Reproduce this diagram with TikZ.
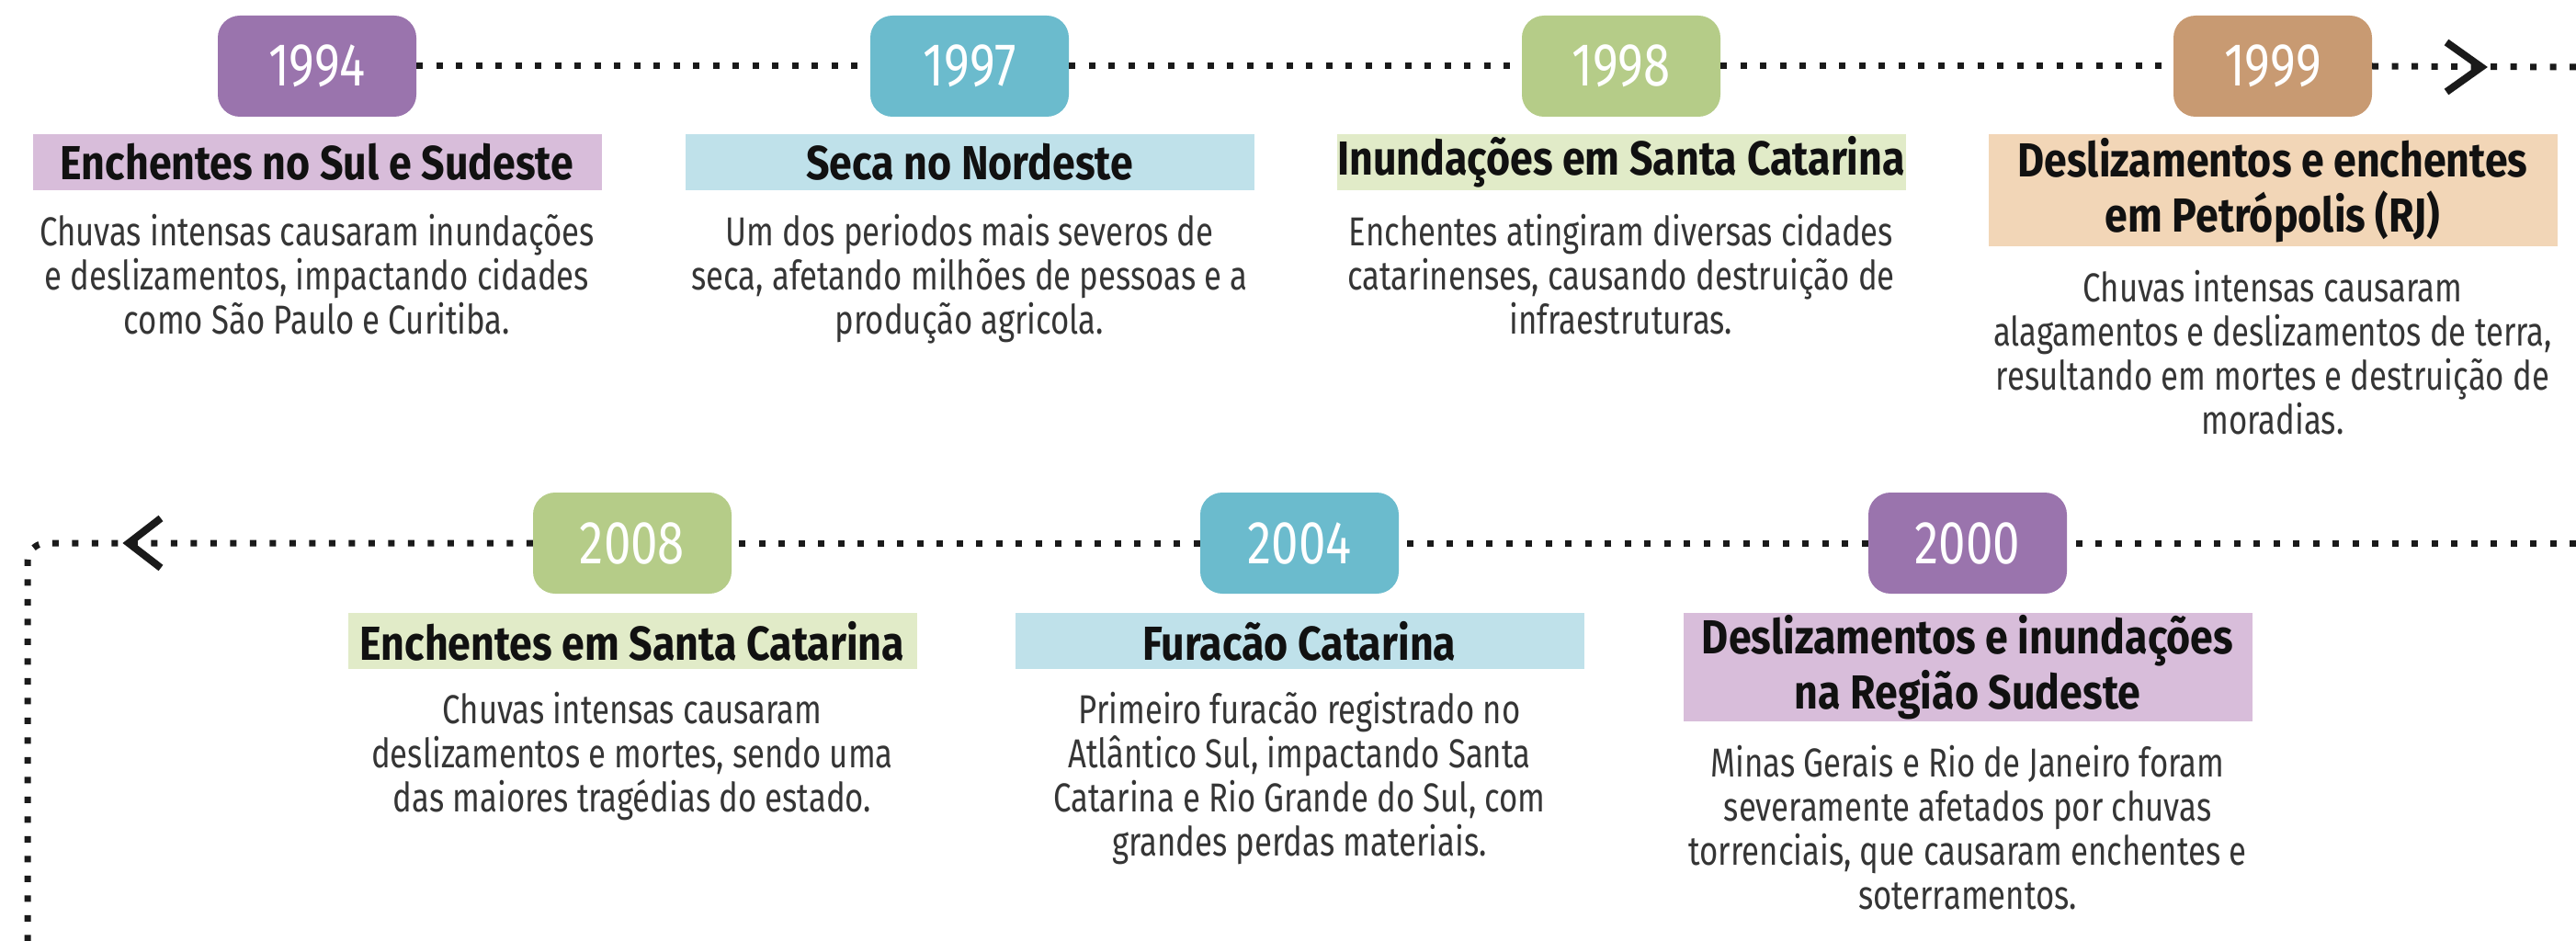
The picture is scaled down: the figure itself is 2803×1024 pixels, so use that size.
\documentclass[tikz,border=0pt]{standalone}
\usepackage{fontspec}
\setmainfont{Fira Sans}[FakeStretch=0.79]
\newfontfamily\titlefam{Fira Sans}[FakeStretch=0.86]
\newfontfamily\yearfam{Fira Sans}[FakeStretch=0.8]
\usetikzlibrary{calc}
\definecolor{purpleD}{HTML}{9A74AD}
\definecolor{purpleL}{HTML}{D8BDDA}
\definecolor{tealD}{HTML}{6BBBCD}
\definecolor{tealL}{HTML}{BFE1EA}
\definecolor{greenD}{HTML}{B5CC88}
\definecolor{greenL}{HTML}{E1EBC8}
\definecolor{tanD}{HTML}{C89A72}
\definecolor{tanL}{HTML}{F2D6B7}
\definecolor{titlecol}{HTML}{111111}
\definecolor{desccol}{HTML}{353535}
\definecolor{dotcol}{HTML}{1A1A1A}
\tikzset{
  yearbox/.style={rounded corners=24pt, minimum width=216pt, minimum height=110pt,
    inner sep=0pt, text=white, font=\yearfam\fontsize{66}{66}\selectfont},
  titlebar/.style={minimum width=619pt, minimum height=61pt, inner sep=0pt, anchor=north,
    align=center, text=titlecol, font=\titlefam\bfseries\fontsize{52}{60}\selectfont},
  desc/.style={anchor=north, inner sep=0pt, align=center, text=desccol,
    font=\fontsize{44}{48}\selectfont},
  dotline/.style={draw=dotcol, line width=7pt, dash pattern=on 7pt off 14.5pt},
  chev/.style={draw=dotcol, line width=8pt}
}
\newcommand{\fl}{\rule{0pt}{42pt}}
\begin{document}
\begin{tikzpicture}[x=1pt,y=-1pt]
\fill[white] (0,0) rectangle (2803,1024);
\useasboundingbox (0,0) rectangle (2803,1024);

% ---------- Row 1 ----------
\node[yearbox, fill=purpleD] (y1994) at (345,72) {1994};
\node[yearbox, fill=tealD]   (y1997) at (1055,72) {1997};
\node[yearbox, fill=greenD]  (y1998) at (1764,72) {1998};
\node[yearbox, fill=tanD]    (y1999) at (2473,72) {1999};

\node[titlebar, fill=purpleL] (t1994) at (345,146) {Enchentes no Sul e Sudeste};
\node[titlebar, fill=tealL]   (t1997) at (1055,146) {Seca no Nordeste};
\node[titlebar, fill=greenL]  (t1998) at (1764,146) {Inundações em Santa Catarina};
\node[titlebar, fill=tanL, minimum height=122pt] (t1999) at (2473,146) {Deslizamentos e enchentes\\em Petrópolis (RJ)};

\node[desc] (d1994) at (345,225) {\fl Chuvas intensas causaram inundações\\e deslizamentos, impactando cidades\\como São Paulo e Curitiba.};
\node[desc] (d1997) at (1055,225) {\fl Um dos periodos mais severos de\\seca, afetando milhões de pessoas e a\\produção agricola.};
\node[desc] (d1998) at (1764,225) {\fl Enchentes atingiram diversas cidades\\catarinenses, causando destruição de\\infraestruturas.};
\node[desc] (d1999) at (2473,286) {\fl Chuvas intensas causaram\\alagamentos e deslizamentos de terra,\\resultando em mortes e destruição de\\moradias.};

\coordinate (r1end) at (2803,73);
\coordinate (c1tip) at (2700,73);
\draw[dotline] (y1994.east) -- (y1997.west);
\draw[dotline] (y1997.east) -- (y1998.west);
\draw[dotline] (y1998.east) -- (y1999.west);
\draw[dotline] (y1999.east) -- (r1end);
\draw[chev] ($(c1tip)+(-38,-27)$) -- (c1tip) -- ($(c1tip)+(-38,27)$);

% ---------- Row 2 ----------
\node[yearbox, fill=greenD]  (y2008) at (688,591) {2008};
\node[yearbox, fill=tealD]   (y2004) at (1414,591) {2004};
\node[yearbox, fill=purpleD] (y2000) at (2141,591) {2000};

\node[titlebar, fill=greenL]  (t2008) at (688,667) {Enchentes em Santa Catarina};
\node[titlebar, fill=tealL]   (t2004) at (1414,667) {Furacão Catarina};
\node[titlebar, fill=purpleL, minimum height=118pt] (t2000) at (2141,667) {Deslizamentos e inundações\\na Região Sudeste};

\node[desc] (d2008) at (688,745) {\fl Chuvas intensas causaram\\deslizamentos e mortes, sendo uma\\das maiores tragédias do estado.};
\node[desc] (d2004) at (1414,745) {\fl Primeiro furacão registrado no\\Atlântico Sul, impactando Santa\\Catarina e Rio Grande do Sul, com\\grandes perdas materiais.};
\node[desc] (d2000) at (2141,803) {\fl Minas Gerais e Rio de Janeiro foram\\severamente afetados por chuvas\\torrenciais, que causaram enchentes e\\soterramentos.};

\coordinate (r2start) at (2803,591);
\coordinate (corner) at (30,591);
\coordinate (bottom) at (30,1024);
\coordinate (c2tip) at (140,591);
\draw[dotline] (r2start) -- (y2000.east);
\draw[dotline] (y2000.west) -- (y2004.east);
\draw[dotline] (y2004.west) -- (y2008.east);
\draw[dotline, rounded corners=20pt] (y2008.west) -- (corner) -- (bottom);
\draw[chev] ($(c2tip)+(35,-27)$) -- (c2tip) -- ($(c2tip)+(35,27)$);
\end{tikzpicture}
\end{document}
